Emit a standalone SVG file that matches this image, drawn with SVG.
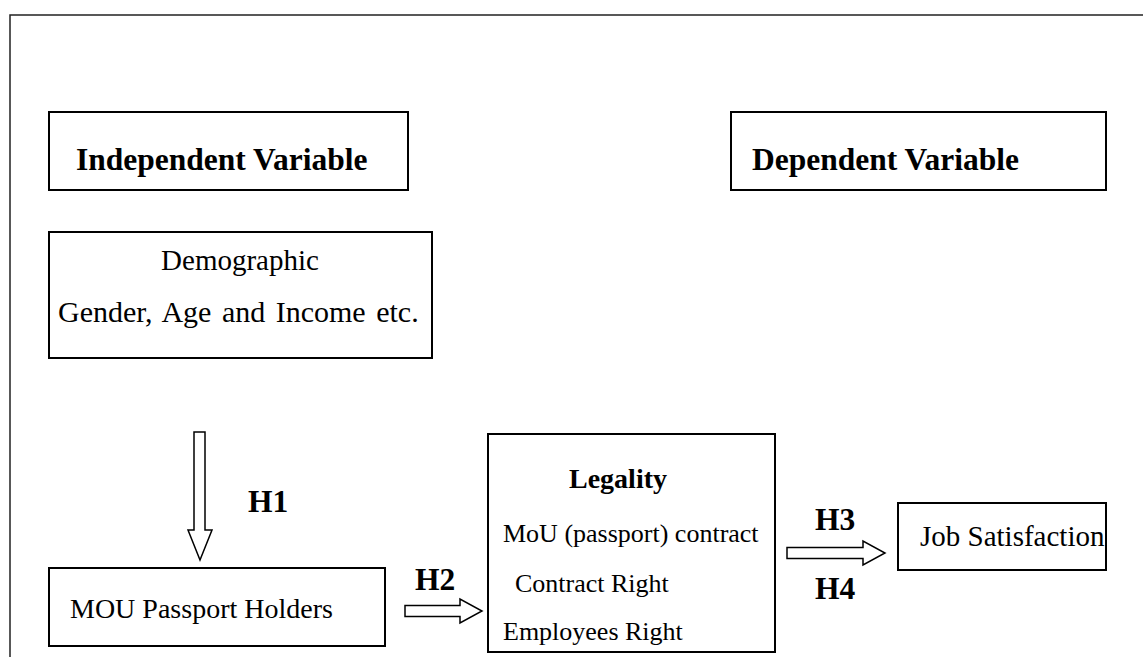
<svg xmlns="http://www.w3.org/2000/svg" width="1143" height="657" viewBox="0 0 1143 657">
<style>
.box{fill:#fff;stroke:#000;stroke-width:2}
.frame{fill:none;stroke:#222;stroke-width:1.5}
.arr{fill:#fff;stroke:#000;stroke-width:1.5;stroke-linejoin:miter}
.t{font-family:"Liberation Serif","Times New Roman",serif;font-size:29px;fill:#000}
.b{font-family:"Liberation Serif","Times New Roman",serif;font-size:31.5px;font-weight:bold;fill:#000}
.s{font-family:"Liberation Serif","Times New Roman",serif;font-size:26px;fill:#000}
</style>
<rect width="1143" height="657" fill="#fff"/>
<path class="frame" d="M10,657 L10,15 L1143,15"/>
<g id="independent">
<rect class="box" x="49" y="112" width="359" height="78"/>
<text class="b" x="76" y="170">Independent Variable</text>
</g>
<g id="dependent">
<rect class="box" x="731" y="112" width="375" height="78"/>
<text class="b" x="752" y="170">Dependent Variable</text>
</g>
<g id="demographic">
<rect class="box" x="49" y="232" width="383" height="126"/>
<text class="t" x="240" y="270" text-anchor="middle">Demographic</text>
<text class="t" x="58" y="322" word-spacing="3" style="font-size:30px">Gender, Age and Income etc.</text>
</g>
<g id="mou">
<rect class="box" x="49" y="568" width="336" height="78"/>
<text class="t" x="70" y="618" style="font-size:28px">MOU Passport Holders</text>
</g>
<g id="legality">
<rect class="box" x="488" y="434" width="287" height="218"/>
<text class="b" x="618" y="488" text-anchor="middle" style="font-size:28px">Legality</text>
<text class="s" x="503" y="542">MoU (passport) contract</text>
<text class="s" x="515" y="592">Contract Right</text>
<text class="s" x="503" y="640">Employees Right</text>
</g>
<g id="jobsat">
<rect class="box" x="898" y="503" width="208" height="67"/>
<text class="t" x="920" y="546">Job Satisfaction</text>
</g>
<g id="connectors">
<polygon class="arr" points="194,432 205,432 205,530 212,530 200,560 188,530 194,530"/>
<text class="b" x="248" y="512">H1</text>
<polygon class="arr" points="405,605.5 460,605.5 460,599 482,611 460,623 460,616.5 405,616.5"/>
<text class="b" x="415" y="590">H2</text>
<polygon class="arr" points="787,547.5 863,547.5 863,541 885,553 863,565 863,558.5 787,558.5"/>
<text class="b" x="815" y="530">H3</text>
<text class="b" x="815" y="599">H4</text>
</g>
</svg>
